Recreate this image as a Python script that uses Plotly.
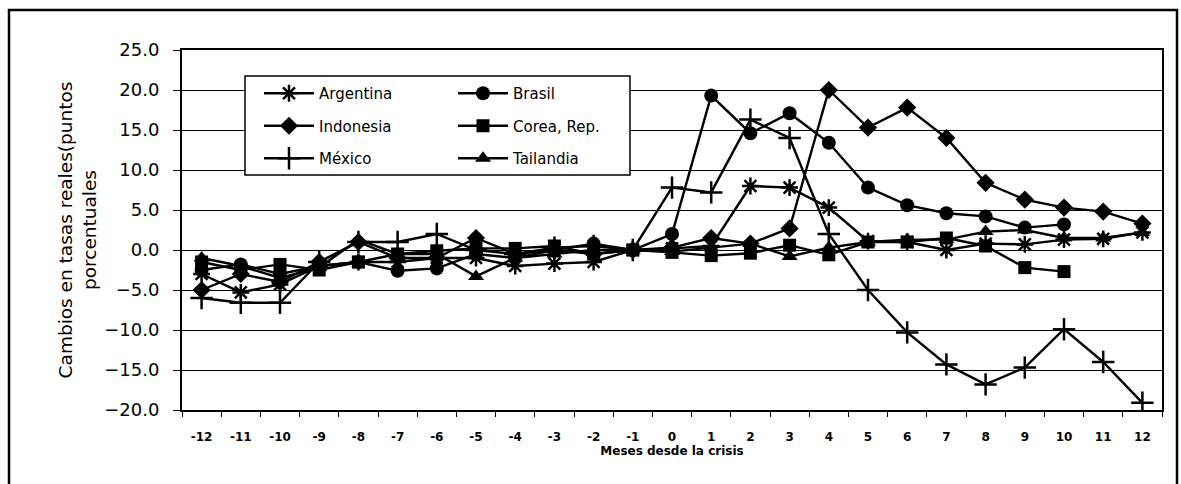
import plotly.graph_objects as go

# Months relative to the crisis (month 0)
months = [str(m) for m in range(-12, 13)]

# Change in real interest rates (percentage points) per country
argentina = [-3.0, -5.3, -4.3, -2.0, -1.5, -1.5, -1.0, -1.0, -2.0, -1.7, -1.5, 0.0,
             0.2, 0.5, 8.0, 7.8, 5.3, 1.1, 1.0, 0.0, 0.8, 0.7, 1.3, 1.4, 2.2]
brasil = [-2.5, -1.8, -3.0, -2.0, -1.5, -2.6, -2.3, -0.5, -1.0, 0.0, 0.8, 0.0,
          2.0, 19.3, 14.6, 17.1, 13.4, 7.8, 5.6, 4.6, 4.2, 2.8, 3.2, None, None]
indonesia = [-5.0, -3.0, -4.0, -1.5, 1.0, -1.0, -1.0, 1.5, -0.5, 0.0, -0.5, 0.0,
             0.3, 1.5, 0.8, 2.7, 20.0, 15.3, 17.8, 14.0, 8.4, 6.3, 5.3, 4.8, 3.3]
corea = [-1.5, -2.5, -1.8, -2.5, -1.5, -0.5, -0.1, 0.2, 0.2, 0.5, -0.5, 0.0,
         -0.3, -0.7, -0.4, 0.6, -0.6, 1.0, 1.0, 1.5, 0.5, -2.2, -2.7, None, None]
mexico = [-6.0, -6.6, -6.6, -1.5, 1.0, 1.0, 2.0, 0.0, -0.5, 0.3, 0.5, 0.0,
          7.8, 7.2, 16.3, 14.0, 2.0, -5.0, -10.3, -14.3, -16.8, -14.7, -9.9, -14.0, -19.1]
tailandia = [-1.0, -2.0, -3.5, -2.2, 1.3, -0.5, -0.5, -3.3, -1.0, -0.5, 0.0, 0.0,
             -0.2, 0.3, 0.8, -0.8, 0.3, 1.0, 1.3, 1.3, 2.3, 2.5, 1.5, 1.5, 2.2]

series = [
    ("Argentina", argentina, "asterisk", 14, "legend"),
    ("Brasil", brasil, "circle", 14, "legend2"),
    ("Indonesia", indonesia, "diamond", 14, "legend"),
    ("Corea, Rep.", corea, "square", 13, "legend2"),
    ("México", mexico, "cross-thin", 16, "legend"),
    ("Tailandia", tailandia, "triangle-up", 14, "legend2"),
]

W, H = 1181, 484
L, R, T, B = 182, 19, 50, 74
pw, ph = W - L - R, H - T - B


def px_x(x):
    return (x - L) / pw


def px_y(y):
    return (H - B - y) / ph


fig = go.Figure()
for name, vals, sym, size, leg in series:
    fig.add_trace(go.Scatter(
        x=months, y=vals, name=name, mode="lines+markers",
        line=dict(color="black", width=2.4),
        marker=dict(symbol=sym, size=size, color="black",
                    line=dict(color="black", width=2.5 if sym in ("asterisk", "cross-thin") else 0)),
        legend=leg, legendgroup=name, connectgaps=False,
    ))

font_main = "DejaVu Sans, Arial, sans-serif"
legend_common = dict(
    bgcolor="rgba(0,0,0,0)", borderwidth=0, itemwidth=50,
    font=dict(family=font_main, size=15, color="black"),
    tracegroupgap=10, xanchor="left", yanchor="top",
)

fig.update_layout(
    width=W, height=H,
    margin=dict(l=L, r=R, t=T, b=B),
    paper_bgcolor="white", plot_bgcolor="white",
    font=dict(family=font_main, color="black"),
    showlegend=True,
    legend=dict(x=px_x(259), y=px_y(77), **legend_common),
    legend2=dict(x=px_x(453), y=px_y(77), **legend_common),
    xaxis=dict(
        type="category", categoryorder="array", categoryarray=months,
        range=[-0.5, len(months) - 0.5],
        tickson="boundaries", ticks="outside", ticklen=5, tickcolor="black",
        ticklabelstandoff=15,
        showgrid=False, showline=True, linecolor="black", linewidth=2, mirror=True,
        tickfont=dict(family=font_main, size=12, color="black", weight="bold"),
        title=dict(text="Meses desde la crisis", standoff=0,
                   font=dict(family=font_main, size=12, color="black", weight="bold")),
    ),
    yaxis=dict(
        range=[-20, 25], dtick=5, tickformat=".1f",
        ticks="outside", ticklen=7, tickcolor="black",
        ticklabelstandoff=10,
        showgrid=True, gridcolor="black", gridwidth=1, zeroline=False,
        showline=True, linecolor="black", linewidth=2, mirror=True,
        tickfont=dict(family=font_main, size=18, color="black"),
        title=dict(text="Cambios en tasas reales(puntos<br>porcentuales", standoff=3,
                   font=dict(family=font_main, size=18.5, color="black")),
    ),
    shapes=[
        # legend box
        dict(type="rect", xref="paper", yref="paper",
             x0=px_x(245), x1=px_x(630), y0=px_y(175), y1=px_y(76),
             fillcolor="white", line=dict(color="black", width=1.5), layer="above"),
        # outer frame
        dict(type="rect", xref="paper", yref="paper",
             x0=px_x(9), x1=px_x(1177), y0=px_y(500), y1=px_y(10),
             fillcolor="rgba(0,0,0,0)", line=dict(color="black", width=2.5), layer="above"),
    ],
)

fig.write_html("out.html")
